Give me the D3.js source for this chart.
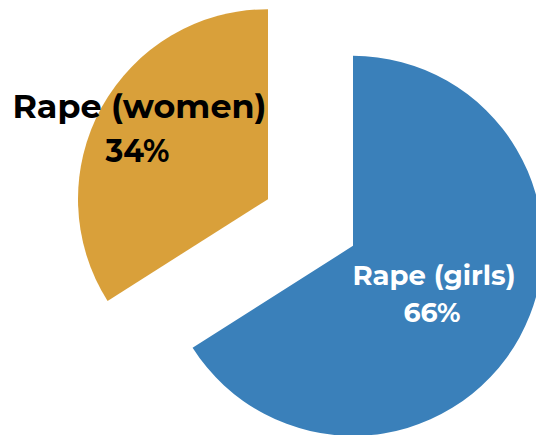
<!DOCTYPE html>
<html>
<head>
<meta charset="utf-8">
<script src="https://cdn.jsdelivr.net/npm/d3@7"></script>
<style>
    body { margin: 0; background: #ffffff; }
    svg { display: block; }
    text { font-family: "Montserrat", "DejaVu Sans", sans-serif; font-weight: bold; }
</style>
</head>
<body>
<svg width="536" height="435"></svg>
<script>
    "use strict";

    // data
    var categories = ["Rape (girls)", "Rape (women)"];
    var shares = [66, 34];
    var colours = ["#3a80ba", "#d9a03a"];

    var width = 536; // px
    var height = 435; // px
    var radius = 190; // px
    var explode = 48.5; // px
    var centre = {x: 310.5, y: 222.5};

    // label layout per slice
    var labelSpec = [
        {x: 434, y1: 285, y2: 322, size: 28, fill: "#ffffff", w1: 163, w2: 57},
        {x: 139.5, y1: 118, y2: 162, size: 32, fill: "#000000", w1: 254, w2: 64}
    ];

    var svg = d3.select("svg")
        .attr("width", width)
        .attr("height", height);

    var pie = d3.pie().sort(null).value(function (d) {
        return d;
    });
    var arc = d3.arc().innerRadius(0).outerRadius(radius);
    var arcs = pie(shares);

    var slices = svg.selectAll("g.slice")
        .data(arcs)
        .enter()
        .append("g")
        .attr("class", "slice")
        .attr("transform", function (d) {
            var mid = (d.startAngle + d.endAngle) / 2;
            var dx = Math.sin(mid) * explode;
            var dy = -Math.cos(mid) * explode;
            return "translate(" + (centre.x + dx) + "," + (centre.y + dy) + ")";
        });

    slices.append("path")
        .attr("d", arc)
        .attr("fill", function (d, i) {
            return colours[i];
        });

    arcs.forEach(function (d, i) {
        var spec = labelSpec[i];
        svg.append("text")
            .attr("x", spec.x)
            .attr("y", spec.y1)
            .attr("text-anchor", "middle")
            .attr("font-size", spec.size)
            .attr("fill", spec.fill)
            .attr("textLength", spec.w1)
            .attr("lengthAdjust", "spacingAndGlyphs")
            .text(categories[i]);
        svg.append("text")
            .attr("x", spec.x - 2)
            .attr("y", spec.y2)
            .attr("text-anchor", "middle")
            .attr("font-size", spec.size)
            .attr("fill", spec.fill)
            .attr("textLength", spec.w2)
            .attr("lengthAdjust", "spacingAndGlyphs")
            .text(d3.format("d")(shares[i]) + "%");
    });
</script>
</body>
</html>
